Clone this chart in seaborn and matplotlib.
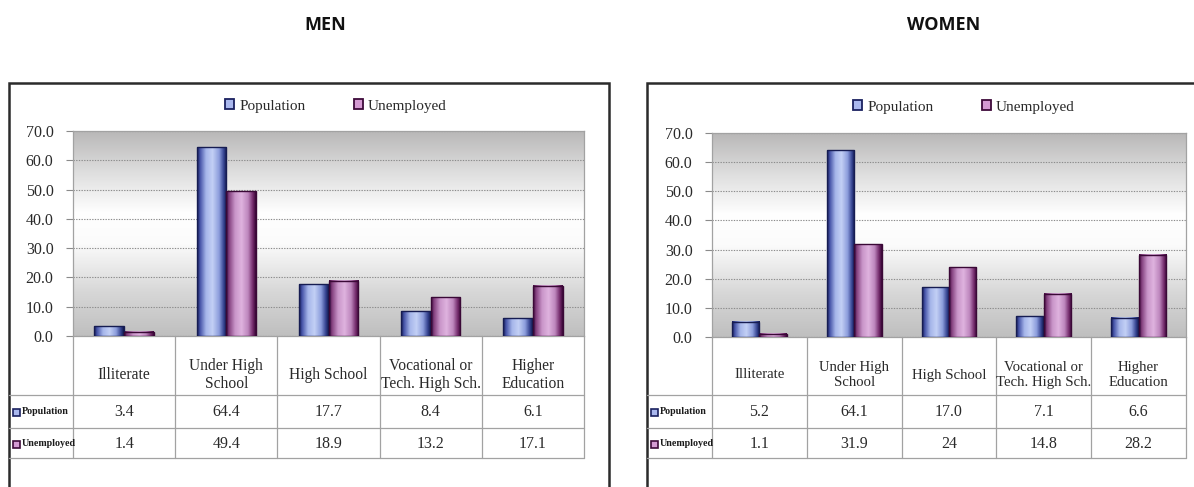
import numpy as np
import pandas as pd
import matplotlib
matplotlib.use("Agg")
import matplotlib.pyplot as plt
import seaborn as sns
from matplotlib import font_manager
from matplotlib.colors import LinearSegmentedColormap
from matplotlib.patches import Rectangle, Patch
from matplotlib.lines import Line2D
from matplotlib.transforms import blended_transform_factory

# ---- data -----------------------------------------------------------------
categories = ["Illiterate", "Under High\nSchool", "High School",
              "Vocational or\nTech. High Sch.", "Higher\nEducation"]
series = ["Population", "Unemployed"]

men_population = [3.4, 64.4, 17.7, 8.4, 6.1]
men_unemployed = [1.4, 49.4, 18.9, 13.2, 17.1]
women_population = [5.2, 64.1, 17.0, 7.1, 6.6]
women_unemployed = [1.1, 31.9, 24, 14.8, 28.2]

y_ticks = [0, 10, 20, 30, 40, 50, 60, 70]

# ---- style ----------------------------------------------------------------
sns.set_theme(style="white")
plt.rcParams["font.family"] = ["Liberation Serif", "DejaVu Serif"]

installed = {f.name for f in font_manager.fontManager.ttflist}
if "Liberation Sans Narrow" in installed:
    row_font = dict(family="Liberation Sans Narrow", fontsize=8.2, fontweight="bold")
else:
    row_font = dict(family="Liberation Serif", fontsize=7.2, fontweight="bold")

W, H = 1194, 487
fig = plt.figure(figsize=(W / 100, H / 100), dpi=100, facecolor="white")


def fx(x):
    return x / W


def fy(y):
    return 1 - y / H


serif = "Liberation Serif"
text_col = "#2a2a2a"
grid_col = "#8c8c8c"
table_col = "#a2a2a2"

blue_cmap = LinearSegmentedColormap.from_list(
    "bar_blue",
    [(0.0, "#141a55"), (0.1, "#4654a8"), (0.3, "#a6b6ea"), (0.52, "#c3d0f5"),
     (0.74, "#8c9ddc"), (0.9, "#34428f"), (1.0, "#10164a")])
purple_cmap = LinearSegmentedColormap.from_list(
    "bar_purple",
    [(0.0, "#3e083a"), (0.1, "#84417f"), (0.3, "#c995c9"), (0.52, "#dfb3df"),
     (0.74, "#bd86bd"), (0.9, "#722a6a"), (1.0, "#380636")])
bg_cmap = LinearSegmentedColormap.from_list(
    "plot_bg",
    [(0.0, "#bfbfbf"), (0.22, "#d8d8d8"), (0.45, "#fbfbfb"), (0.6, "#ffffff"),
     (0.8, "#dedede"), (1.0, "#b9b8b8")])

marker_face = {"Population": "#aab8ee", "Unemployed": "#d59ad3"}
marker_edge = {"Population": "#1a2160", "Unemployed": "#3e0a3a"}
bar_edge = {"Population": "#161c52", "Unemployed": "#3a0836"}
bar_cmaps = {"Population": blue_cmap, "Unemployed": purple_cmap}


def draw_panel(title, title_x, pop, unemp, frame_x0, frame_x1,
               plot_box, legend_x, legend_y, cat_size):
    left, top, right, bottom = plot_box
    # outer frame around the whole panel
    fig.add_artist(Rectangle((fx(frame_x0), fy(520)), fx(frame_x1) - fx(frame_x0),
                             fy(83) - fy(520), transform=fig.transFigure,
                             fill=False, edgecolor="#2b2b2b", linewidth=1.8))
    fig.text(fx(title_x), fy(25), title, ha="center", va="center",
             family=["Open Sans", "DejaVu Sans"], fontweight="bold",
             fontsize=13, color="#111111")

    ax = fig.add_axes([fx(left), fy(bottom), fx(right) - fx(left),
                       fy(top) - fy(bottom)])

    df = pd.DataFrame({
        "Category": categories * 2,
        "Series": [s for s in series for _ in categories],
        "Value": list(pop) + list(unemp),
    })
    sns.barplot(data=df, x="Category", y="Value", hue="Series",
                order=categories, hue_order=series, width=0.58,
                palette=[marker_face[s] for s in series], legend=False,
                ax=ax, zorder=3)

    # shaded background of the plotting area
    grad = np.linspace(0, 1, 256).reshape(-1, 1)
    ax.imshow(grad, extent=(0, 1, 0, 1), transform=ax.transAxes,
              origin="lower", cmap=bg_cmap, aspect="auto", zorder=0)

    # cylinder-like horizontal shading on every bar
    hgrad = np.linspace(0, 1, 128).reshape(1, -1)
    for name, container in zip(series, ax.containers):
        for bar in container:
            x0, w = bar.get_x(), bar.get_width()
            h = bar.get_height()
            ax.imshow(hgrad, extent=(x0, x0 + w, 0, h), origin="lower",
                      cmap=bar_cmaps[name], aspect="auto", zorder=3)
            bar.set_facecolor("none")
            bar.set_edgecolor(bar_edge[name])
            bar.set_linewidth(1.0)
            bar.set_zorder(4)

    ax.set_xlim(-0.5, len(categories) - 0.5)
    ax.set_ylim(0, 70)
    ax.set_yticks(y_ticks)
    ax.set_yticklabels([f"{t:.1f}" for t in y_ticks], family=serif,
                       fontsize=11.5, color=text_col)
    ax.tick_params(axis="y", length=5, width=0.8, color="#8a8a8a", pad=9, left=True)
    ax.tick_params(axis="x", length=0, labelbottom=False)
    ax.set_xlabel("")
    ax.set_ylabel("")
    ax.yaxis.grid(True, linestyle=(0, (1.2, 1.2)), color=grid_col, linewidth=0.8)
    ax.set_axisbelow(True)
    for sp in ax.spines.values():
        sp.set_visible(True)
        sp.set_color(table_col)
        sp.set_linewidth(0.9)

    # legend above the plot
    handles = [Patch(facecolor=marker_face[s], edgecolor=marker_edge[s],
                     linewidth=1.3, label=s) for s in series]
    fig.legend(handles=handles, loc="center", ncol=2,
               bbox_to_anchor=(fx(legend_x), fy(legend_y)),
               bbox_transform=fig.transFigure, frameon=False,
               prop={"family": serif, "size": 11}, labelcolor=text_col,
               handlelength=0.55, handleheight=0.55, handletextpad=0.35,
               columnspacing=3.2, borderpad=0)

    # data table underneath
    row_lines = [395, 428, 458]
    tr = blended_transform_factory(ax.transData, fig.transFigure)
    for i in range(len(categories) + 1):
        fig.add_artist(Line2D([i - 0.5, i - 0.5], [fy(bottom), fy(row_lines[-1])],
                              transform=tr, color=table_col, linewidth=0.9))
    for ry in row_lines:
        fig.add_artist(Line2D([fx(frame_x0), fx(right)], [fy(ry), fy(ry)],
                              transform=fig.transFigure, color=table_col,
                              linewidth=0.9))
    for i, cat in enumerate(categories):
        fig.text(i, fy(375), cat, transform=tr, ha="center", va="center",
                 family=serif, fontsize=cat_size, color=text_col, linespacing=1.15)
        fig.text(i, fy(412), str(pop[i]), transform=tr, ha="center",
                 va="center", family=serif, fontsize=11.5, color=text_col)
        fig.text(i, fy(444), str(unemp[i]), transform=tr, ha="center",
                 va="center", family=serif, fontsize=11.5, color=text_col)

    for s, cy in zip(series, [412, 444]):
        fig.add_artist(Rectangle((fx(frame_x0 + 4), fy(cy + 3.5)), 7 / W, 7 / H,
                                 transform=fig.transFigure,
                                 facecolor=marker_face[s],
                                 edgecolor=marker_edge[s], linewidth=1.2))
        fig.text(fx(frame_x0 + 12.5), fy(cy), s, ha="left", va="center",
                 color="#1a1a1a", **row_font)
    return ax


draw_panel("MEN", 325, men_population, men_unemployed, 9, 609,
           (73, 131, 584, 336), 336, 106, 11.2)
draw_panel("WOMEN", 944, women_population, women_unemployed, 647, 1240,
           (712, 133, 1186, 337), 964, 107, 10.6)

fig.savefig("out.png", dpi=100, facecolor="white")
